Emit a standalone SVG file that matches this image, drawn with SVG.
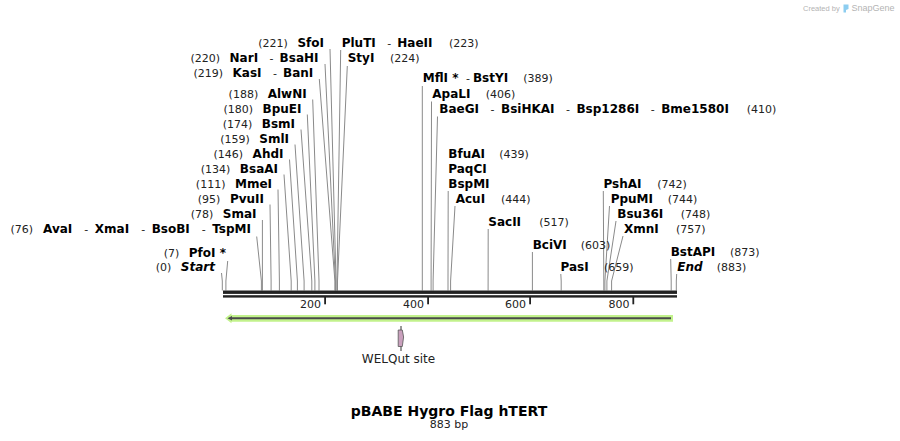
<svg xmlns="http://www.w3.org/2000/svg" width="900" height="441" viewBox="0 0 900 441">
<style>
text{font-family:"DejaVu Sans","Liberation Sans",sans-serif;}
.e{font-size:12px;font-weight:bold;fill:#000;}
.n{font-size:11px;font-weight:normal;fill:#222;}
.i{font-style:italic;}
.r{text-anchor:end;}
.cn line,.cn polyline{stroke:#8a8a8a;stroke-width:1;fill:none;}
.tk{font-size:11px;fill:#222;text-anchor:end;}
.wm{font-family:"Liberation Sans",sans-serif;fill:#b4b4b4;}
</style>
<rect width="900" height="441" fill="#fff"/>
<g id="watermark">
<text class="wm" x="803" y="10.5" font-size="7.5">Created by</text>
<path d="M843.5,4.5 L848.5,4.5 L848.5,9 L846,10 L846,12.5 L843.5,12.5 Z" fill="#8ccdf0"/>
<text class="wm" x="851.5" y="11" font-size="9">SnapGene</text>
</g>
<g id="connectors" class="cn">
<polyline points="330,49 336,281 336,290.5"/>
<polyline points="325,64 335.4,281 335.4,290.5"/>
<polyline points="319.3,79 334.9,281 334.9,290.5"/>
<polyline points="312.7,99.5 319,281 319,290.5"/>
<polyline points="307.3,114.5 314.9,281 314.9,290.5"/>
<polyline points="301,129.5 311.8,281 311.8,290.5"/>
<polyline points="295,144.5 304.1,281 304.1,290.5"/>
<polyline points="289.5,159.5 297.4,281 297.4,290.5"/>
<polyline points="284,174.5 291.2,281 291.2,290.5"/>
<polyline points="278,189.5 279.4,281 279.4,290.5"/>
<polyline points="270,204.5 271.1,281 271.1,290.5"/>
<polyline points="262.4,220 262.4,290.5"/>
<polyline points="256.7,236.5 261.4,281 261.4,290.5"/>
<polyline points="227.7,261 225.9,281 225.9,290.5"/>
<polyline points="221.5,273 222.3,281 222.3,290.5"/>
<polyline points="340.7,50 337,281 337,290.5"/>
<polyline points="347.3,66 337.5,281 337.5,290.5"/>
<polyline points="422.3,86 422.3,290.5"/>
<polyline points="431.5,101.5 431.1,281 431.1,290.5"/>
<polyline points="437.5,116.5 433.1,281 433.1,290.5"/>
<polyline points="448.2,191 448,281 448,290.5"/>
<polyline points="455,206 450.6,281 450.6,290.5"/>
<polyline points="488.2,229 488.1,290.5"/>
<polyline points="532.4,252 532.4,290.5"/>
<polyline points="560.8,274 561.2,281 561.2,290.5"/>
<polyline points="603.3,191 603.8,281 603.8,290.5"/>
<polyline points="609.5,206 604.9,281 604.9,290.5"/>
<polyline points="616,221 606.9,281 606.9,290.5"/>
<polyline points="623,236 611.6,281 611.6,290.5"/>
<polyline points="670.7,259 671.2,281 671.2,290.5"/>
<polyline points="676.7,274 676.3,281 676.3,290.5"/>
</g>
<g id="backbone">
<rect x="223" y="290.5" width="454" height="3.4" fill="#222"/>
<rect x="223" y="295.2" width="454" height="2.4" fill="#222"/>
<rect x="324.2" y="297" width="1.8" height="7.3" fill="#222"/>
<rect x="427.2" y="297" width="1.8" height="7.3" fill="#222"/>
<rect x="529.2" y="297" width="1.8" height="7.3" fill="#222"/>
<rect x="632.4" y="297" width="1.8" height="7.3" fill="#222"/>
<text class="tk" x="321" y="308">200</text>
<text class="tk" x="424" y="308">400</text>
<text class="tk" x="526" y="308">600</text>
<text class="tk" x="629.5" y="308">800</text>
</g>
<g id="feature-arrow">
<path d="M673,315 L231.5,315 L231.5,313.3 L225,318.3 L231.5,323.3 L231.5,321.7 L673,321.7 Z" fill="#c2f28c"/>
<line x1="671" y1="318.3" x2="231" y2="318.3" stroke="#4a4a4a" stroke-width="2"/>
<path d="M227.5,318.3 L232,316 L232,320.6 Z" fill="#4a4a4a"/>
</g>
<g id="welqut-site">
<line x1="401" y1="326" x2="401" y2="351" stroke="#333" stroke-width="1"/>
<path d="M398.2,330 L402.3,330 L403.6,337 L402.3,346.5 L398.2,346.5 Z" fill="#c9a0bd" stroke="#555" stroke-width="0.8"/>
<text x="398.5" y="363.3" font-size="12" fill="#222" text-anchor="middle">WELQut site</text>
</g>
<g id="lbl-sfoi"><text class="e r" x="324" y="47"><tspan class="n">(221)</tspan><tspan dx="9.5">SfoI</tspan></text></g>
<g id="lbl-nari"><text class="e r" x="318.5" y="62"><tspan class="n">(220)</tspan><tspan dx="9.5">NarI</tspan><tspan class="n" dx="11.5">-</tspan><tspan dx="6">BsaHI</tspan></text></g>
<g id="lbl-kasi"><text class="e r" x="313.3" y="77"><tspan class="n">(219)</tspan><tspan dx="9.5">KasI</tspan><tspan class="n" dx="11.5">-</tspan><tspan dx="6">BanI</tspan></text></g>
<g id="lbl-alwni"><text class="e r" x="306.7" y="98"><tspan class="n">(188)</tspan><tspan dx="9.5">AlwNI</tspan></text></g>
<g id="lbl-bpuei"><text class="e r" x="301.5" y="113"><tspan class="n">(180)</tspan><tspan dx="9.5">BpuEI</tspan></text></g>
<g id="lbl-bsmi"><text class="e r" x="295" y="128"><tspan class="n">(174)</tspan><tspan dx="9.5">BsmI</tspan></text></g>
<g id="lbl-smli"><text class="e r" x="289" y="143"><tspan class="n">(159)</tspan><tspan dx="9.5">SmlI</tspan></text></g>
<g id="lbl-ahdi"><text class="e r" x="283.5" y="158"><tspan class="n">(146)</tspan><tspan dx="9.5">AhdI</tspan></text></g>
<g id="lbl-bsaai"><text class="e r" x="278" y="173"><tspan class="n">(134)</tspan><tspan dx="9.5">BsaAI</tspan></text></g>
<g id="lbl-mmei"><text class="e r" x="272" y="188"><tspan class="n">(111)</tspan><tspan dx="9.5">MmeI</tspan></text></g>
<g id="lbl-pvuii"><text class="e r" x="264" y="203"><tspan class="n">(95)</tspan><tspan dx="9.5">PvuII</tspan></text></g>
<g id="lbl-smai"><text class="e r" x="256.5" y="218"><tspan class="n">(78)</tspan><tspan dx="9.5">SmaI</tspan></text></g>
<g id="lbl-avai"><text class="e r" x="251" y="233"><tspan class="n">(76)</tspan><tspan dx="10">AvaI</tspan><tspan class="n" dx="12">-</tspan><tspan dx="6.5">XmaI</tspan><tspan class="n" dx="12">-</tspan><tspan dx="6.5">BsoBI</tspan><tspan class="n" dx="12">-</tspan><tspan dx="6.5">TspMI</tspan></text></g>
<g id="lbl-pfoi"><text class="e r" x="226" y="257"><tspan class="n">(7)</tspan><tspan dx="9.5">PfoI *</tspan></text></g>
<g id="lbl-start"><text class="e r" x="215" y="271"><tspan class="n">(0)</tspan><tspan class="i" dx="9.5">Start</tspan></text></g>
<g id="lbl-pluti"><text class="e" x="341.7" y="47">PluTI<tspan class="n" dx="11.5">-</tspan><tspan dx="6">HaeII</tspan></text><text class="n" x="449" y="47">(223)</text></g>
<g id="lbl-styi"><text class="e" x="347.7" y="62">StyI</text><text class="n" x="390" y="62">(224)</text></g>
<g id="lbl-mfli"><text class="e" x="422.7" y="82">MflI *<tspan class="n" dx="7.5">-</tspan><tspan dx="3">BstYI</tspan></text><text class="n" x="523.3" y="82">(389)</text></g>
<g id="lbl-apali"><text class="e" x="432.3" y="98">ApaLI</text><text class="n" x="485.7" y="98">(406)</text></g>
<g id="lbl-baegi"><text class="e" x="439.3" y="113">BaeGI<tspan class="n" dx="11.5">-</tspan><tspan dx="6.5">BsiHKAI</tspan><tspan class="n" dx="11.5">-</tspan><tspan dx="6.5">Bsp1286I</tspan><tspan class="n" dx="11.5">-</tspan><tspan dx="6.5">Bme1580I</tspan></text><text class="n" x="746.7" y="113">(410)</text></g>
<g id="lbl-bfuai"><text class="e" x="448.3" y="158">BfuAI</text><text class="n" x="499.3" y="158">(439)</text></g>
<g id="lbl-paqci"><text class="e" x="448.3" y="173">PaqCI</text></g>
<g id="lbl-bspmi"><text class="e" x="448.3" y="188">BspMI</text></g>
<g id="lbl-acui"><text class="e" x="455.7" y="203">AcuI</text><text class="n" x="501" y="203">(444)</text></g>
<g id="lbl-sacii"><text class="e" x="488.3" y="225.5">SacII</text><text class="n" x="539.3" y="225.5">(517)</text></g>
<g id="lbl-bcivi"><text class="e" x="532.7" y="248.5">BciVI</text><text class="n" x="580.7" y="248.5">(603)</text></g>
<g id="lbl-pasi"><text class="e" x="560.5" y="271">PasI</text><text class="n" x="604" y="271">(659)</text></g>
<g id="lbl-pshai"><text class="e" x="603.5" y="188">PshAI</text><text class="n" x="657.3" y="188">(742)</text></g>
<g id="lbl-ppumi"><text class="e" x="610.7" y="203">PpuMI</text><text class="n" x="667.7" y="203">(744)</text></g>
<g id="lbl-bsu36i"><text class="e" x="617.3" y="218">Bsu36I</text><text class="n" x="680.7" y="218">(748)</text></g>
<g id="lbl-xmni"><text class="e" x="624" y="233">XmnI</text><text class="n" x="676" y="233">(757)</text></g>
<g id="lbl-bstapi"><text class="e" x="670.7" y="256">BstAPI</text><text class="n" x="730" y="256">(873)</text></g>
<g id="lbl-end"><text class="e i" x="677.3" y="271">End</text><text class="n" x="716.7" y="271">(883)</text></g>
<g id="title">
<text x="449" y="416" font-size="14" font-weight="bold" fill="#000" text-anchor="middle">pBABE Hygro Flag hTERT</text>
<text x="449" y="428.3" font-size="11" fill="#222" text-anchor="middle">883 bp</text>
</g>
</svg>
